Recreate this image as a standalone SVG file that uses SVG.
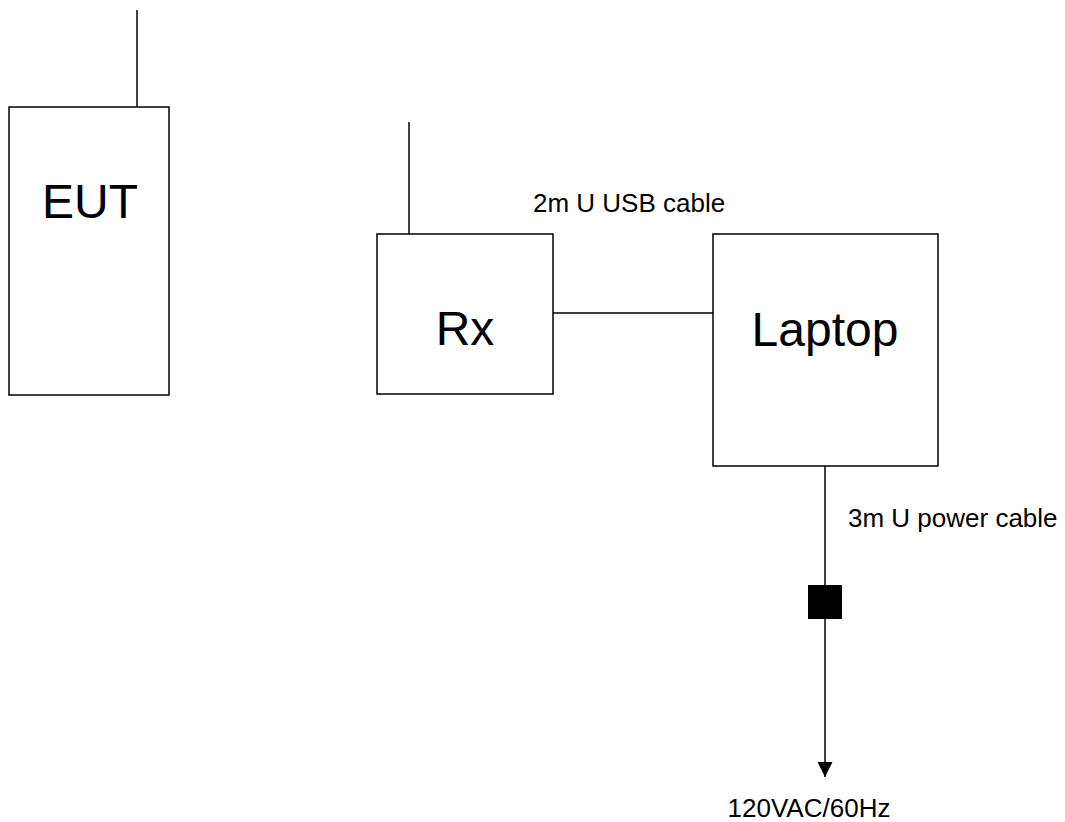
<svg xmlns="http://www.w3.org/2000/svg" width="1065" height="822" viewBox="0 0 1065 822">
<style>
.box{fill:#fff;stroke:#000;stroke-width:1.5}
.ln{stroke:#000;stroke-width:1.5;fill:none}
.big{font-family:"Liberation Sans",Arial,sans-serif;font-size:48px;fill:#000;text-anchor:middle}
.lbl{font-family:"Liberation Sans",Arial,sans-serif;font-size:26px;fill:#000}
</style>
<defs>
<marker id="arr" markerWidth="16" markerHeight="16" refX="15" refY="7.5" orient="auto" markerUnits="userSpaceOnUse" viewBox="0 0 16 16">
<path d="M0,0 L15,7.5 L0,15 Z" fill="#000"/>
</marker>
</defs>
<rect width="1065" height="822" fill="#fff"/>
<g id="EUT">
<line class="ln" x1="137" y1="10" x2="137" y2="107"/>
<rect class="box" x="9" y="107" width="160" height="288"/>
<text class="big" x="90" y="218">EUT</text>
</g>
<g id="Rx">
<line class="ln" x1="409" y1="122" x2="409" y2="234"/>
<rect class="box" x="377" y="234" width="176" height="160"/>
<text class="big" x="465" y="345">Rx</text>
</g>
<g id="Laptop">
<rect class="box" x="713" y="234" width="225" height="232"/>
<text class="big" x="825" y="346">Laptop</text>
</g>
<g id="connectors">
<line class="ln" x1="553" y1="313" x2="713" y2="313"/>
<line class="ln" x1="825" y1="466" x2="825" y2="777" marker-end="url(#arr)"/>
<rect x="808" y="585" width="34" height="34" fill="#000"/>
</g>
<g id="labels">
<text class="lbl" x="533" y="212">2m U USB cable</text>
<text class="lbl" x="848" y="527">3m U power cable</text>
<text class="lbl" x="809" y="817" text-anchor="middle">120VAC/60Hz</text>
</g>
</svg>
